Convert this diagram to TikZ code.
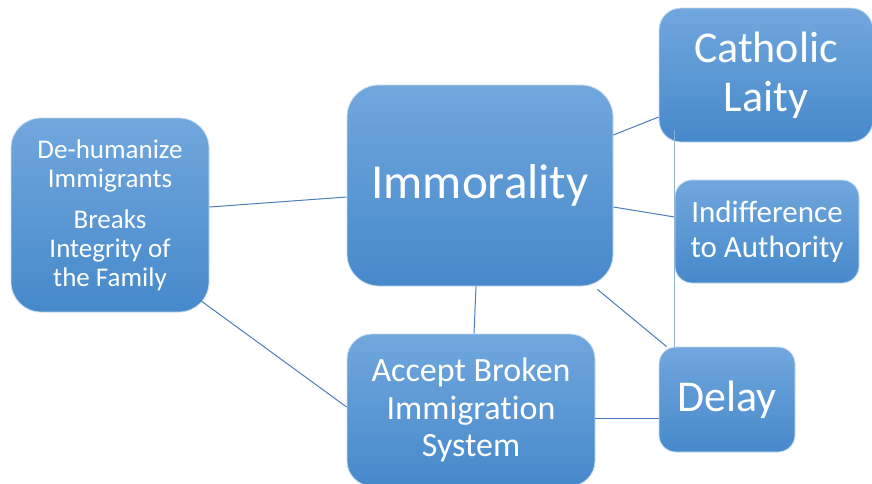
\documentclass[tikz,border=0pt]{standalone}
\usepackage{fontspec}
\setmainfont[Ligatures={NoCommon,NoRare,NoContextual}]{Carlito}
\definecolor{boxtop}{RGB}{113,167,221}
\definecolor{boxmid}{RGB}{88,152,216}
\definecolor{boxbot}{RGB}{70,137,203}
\definecolor{linkblue}{RGB}{74,126,187}
\tikzset{
  sabox/.style={rectangle, draw=white!60!boxtop, line width=0.8pt, top color=boxtop, middle color=boxmid, bottom color=boxbot, text=white, align=center, inner sep=0pt},
  link/.style={draw=linkblue, line width=1pt},
}
\begin{document}
\begin{tikzpicture}[x=1pt,y=-1pt]
\useasboundingbox (0,0) rectangle (872,483);
\node[sabox, minimum width=198pt, minimum height=194pt, rounded corners=30pt, font=\fontsize{27}{29}\selectfont] (left) at (110,215) {De-humanize\\Immigrants\\[12pt]Breaks\\Integrity of\\the Family};
\node[sabox, minimum width=266pt, minimum height=201pt, rounded corners=32pt, font=\fontsize{49}{55}\selectfont] (imm) at (480,185.5) {Immorality};
\node[sabox, minimum width=248pt, minimum height=152pt, rounded corners=25pt, font=\fontsize{34}{37.5}\selectfont] (acc) at (471,410) {Accept Broken\\Immigration\\System};
\node[sabox, minimum width=214pt, minimum height=134pt, rounded corners=22pt, font=\fontsize{44}{49}\selectfont] (cath) at (766,75) {Catholic\\Laity};
\node[sabox, minimum width=184pt, minimum height=103pt, rounded corners=17pt, font=\fontsize{31}{35}\selectfont] (ind) at (767,231.5) {Indifference\\to Authority};
\node[sabox, minimum width=136pt, minimum height=105pt, rounded corners=17pt, font=\fontsize{44}{49}\selectfont] (delay) at (727,399.5) {Delay};
\draw[link] ([yshift=8pt]left.east) -- ([yshift=-11.5pt]imm.west);
\draw[link] ([xshift=-9pt,yshift=12pt]left.south east) -- ([yshift=3pt]acc.west);
\draw[link] ([xshift=-4pt]imm.south) -- ([xshift=3pt]acc.north);
\draw[link] ([yshift=50.5pt]imm.east) -- ([yshift=-42pt]cath.west);
\draw[link] ([yshift=-21.5pt]imm.east) -- ([yshift=14.5pt]ind.west);
\draw[link] ([xshift=-16pt,yshift=-3pt]imm.south east) -- ([xshift=8pt]delay.north west);
\draw[link, draw=linkblue!60!white] ([xshift=16pt,yshift=12pt]cath.south west) -- ([xshift=16pt]delay.north west);
\draw[link] ([yshift=-8pt]acc.east) -- ([yshift=-18.5pt]delay.west);
\end{tikzpicture}
\end{document}
